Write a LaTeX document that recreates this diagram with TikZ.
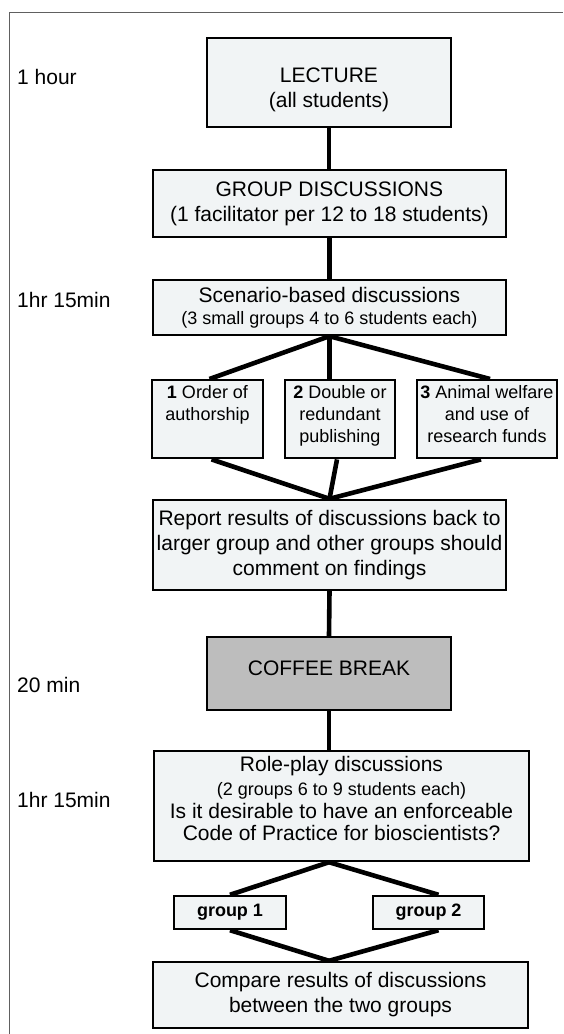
\documentclass[tikz,border=0pt]{standalone}
\usepackage{fontspec}
\setmainfont{Liberation Sans}
\usetikzlibrary{calc,backgrounds}
\definecolor{boxfill}{HTML}{F1F4F5}
\definecolor{breakfill}{HTML}{BDBDBD}
\definecolor{framegray}{HTML}{606060}
\newcommand{\mainsz}{\fontsize{21}{25}\selectfont}
\newcommand{\smallsz}{\fontsize{18}{22}\selectfont}
\tikzset{
  box/.style={draw=black, line width=2.4pt, fill=boxfill, align=center,
              inner sep=0pt, font=\mainsz},
  topicbox/.style={box, font=\smallsz, minimum height=78, anchor=north},
  link/.style={line width=4.6pt},
  timelabel/.style={anchor=west, inner sep=0pt, font=\mainsz},
}
\begin{document}
\begin{tikzpicture}[x=1pt, y=-1pt]
\useasboundingbox (0,0) rectangle (563,1034);
% page frame
\draw[framegray, line width=1pt] (9,1034) -- (9,12) -- (563,12);

% time labels
\node[timelabel] (t1) at (17,77)  {1 hour};
\node[timelabel] (t2) at (17,300) {1hr 15min};
\node[timelabel] (t3) at (17,685) {20 min};
\node[timelabel] (t4) at (17,800) {1hr 15min};

% main column
\node[box, minimum width=244, minimum height=89] (lecture) at (329,82.5)
  {LECTURE\\(all students)\\[-35pt]\mbox{}};
\node[box, minimum width=353, minimum height=67] (group) at (329.4,203.5)
  {GROUP DISCUSSIONS\\(1 facilitator per 12 to 18 students)};
\node[box, minimum width=353, minimum height=55] (scen) at (329.4,307.5)
  {Scenario-based discussions\\[-3pt]{\smallsz(3 small groups 4 to 6 students each)}};

% scenarios
\node[topicbox, minimum width=111] (b1) at (207.5,379)
  {\textbf{1} Order of\\authorship\\\mbox{}\\[-12pt]\mbox{}};
\node[topicbox, minimum width=110] (b2) at (340,379)
  {\textbf{2} Double or\\redundant\\publishing\\[-12pt]\mbox{}};
\node[topicbox, minimum width=140] (b3) at (487,379)
  {\textbf{3} Animal welfare\\and use of\\research funds\\[-12pt]\mbox{}};

\node[box, minimum width=353, minimum height=90] (report) at (329.5,545)
  {Report results of discussions back to\\larger group and other groups should\\comment on findings};

\node[box, fill=breakfill, minimum width=244, minimum height=73] (coffee) at (329,673.5)
  {COFFEE BREAK\\[-14pt]\mbox{}};

\node[box, minimum width=375, minimum height=110] (role) at (341.5,806)
  {Role-play discussions\\[-1pt]{\smallsz(2 groups 6 to 9 students each)}\\[-2pt]Is it desirable to have an enforceable\\[-3pt]Code of Practice for bioscientists?\\[-10pt]\mbox{}};

\node[box, font=\smallsz\bfseries, minimum width=112, minimum height=33] (g1) at (230,912.5)
  {group 1};
\node[box, font=\smallsz\bfseries, minimum width=111, minimum height=33] (g2) at (428.5,912.5)
  {group 2};

\node[box, minimum width=375, minimum height=66] (compare) at (340.5,995)
  {Compare results of discussions\\between the two groups};

% connectors, drawn behind the boxes
\begin{scope}[on background layer]
\draw[link] (lecture.south) -- (lecture.south |- group.north);
\draw[link] (group.south) -- (scen.north);
\draw[link] (scen.south) -- ($(b1.north)+(2,0)$);
\draw[link] (scen.south) -- (scen.south |- b2.north);
\draw[link] (scen.south) -- ($(b3.north)+(3,0)$);
\draw[link] ($(b1.south)+(4,0)$) -- (report.north);
\draw[link] ($(b2.south)+(-3,0)$) -- (report.north);
\draw[link] ($(b3.south)+(-6,0)$) -- (report.north);
\draw[link] (report.south) -- (coffee.north);
\draw[link] (coffee.south) -- (coffee.south |- role.north);
\coordinate (rapex) at (role.south -| coffee.south);
\coordinate (capex) at (compare.north -| coffee.south);
\draw[link] (rapex) -- (g1.north);
\draw[link] (rapex) -- ($(g2.north)+(10,0)$);
\draw[link] (g1.south) -- (capex);
\draw[link] ($(g2.south)+(10,0)$) -- (capex);
\end{scope}
\end{tikzpicture}
\end{document}
